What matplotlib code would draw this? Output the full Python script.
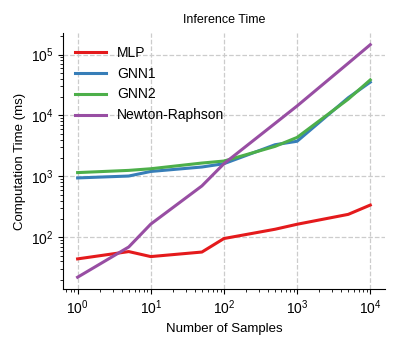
import matplotlib
matplotlib.use("Agg")
import matplotlib.pyplot as plt

plt.rcParams['font.family'] = ['Liberation Sans', 'DejaVu Sans']

samples = [1, 5, 10, 50, 100, 500, 1000, 5000, 10000]
mlp = [44, 58, 48, 57, 95, 135, 163, 237, 337]
gnn1 = [940, 1010, 1200, 1420, 1610, 3300, 3760, 19500, 35200]
gnn2 = [1150, 1250, 1330, 1650, 1780, 3100, 4350, 18500, 38300]
newton = [22, 69, 164, 695, 1610, 7400, 14300, 72000, 145000]

series = [("MLP", mlp, "#e41a1c"), ("GNN1", gnn1, "#377eb8"),
          ("GNN2", gnn2, "#4daf4a"), ("Newton-Raphson", newton, "#984ea3")]

fig = plt.figure(figsize=(3.96, 3.48), dpi=100)
ax = fig.add_axes([0.159, 0.170, 0.813, 0.735])
for name, vals, c in series:
    ax.plot(samples, vals, color=c, lw=2.2, label=name)
ax.set_xscale('log')
ax.set_yscale('log')
ax.grid(True, which='major', ls='--', color='#cccccc', lw=0.9)
ax.set_axisbelow(True)
for s in ['top', 'right']:
    ax.spines[s].set_visible(False)
ax.tick_params(which='both', direction='out', labelsize=10, pad=3.5)
ax.set_xlabel('Number of Samples', fontsize=9.5, labelpad=4)
ax.set_ylabel('Computation Time (ms)', fontsize=9.5, labelpad=3)
ax.set_title('Inference Time', fontsize=9, pad=7)
ax.legend(loc='upper left', frameon=False, fontsize=10, handlelength=2.2)
fig.savefig('out.png', dpi=100)
